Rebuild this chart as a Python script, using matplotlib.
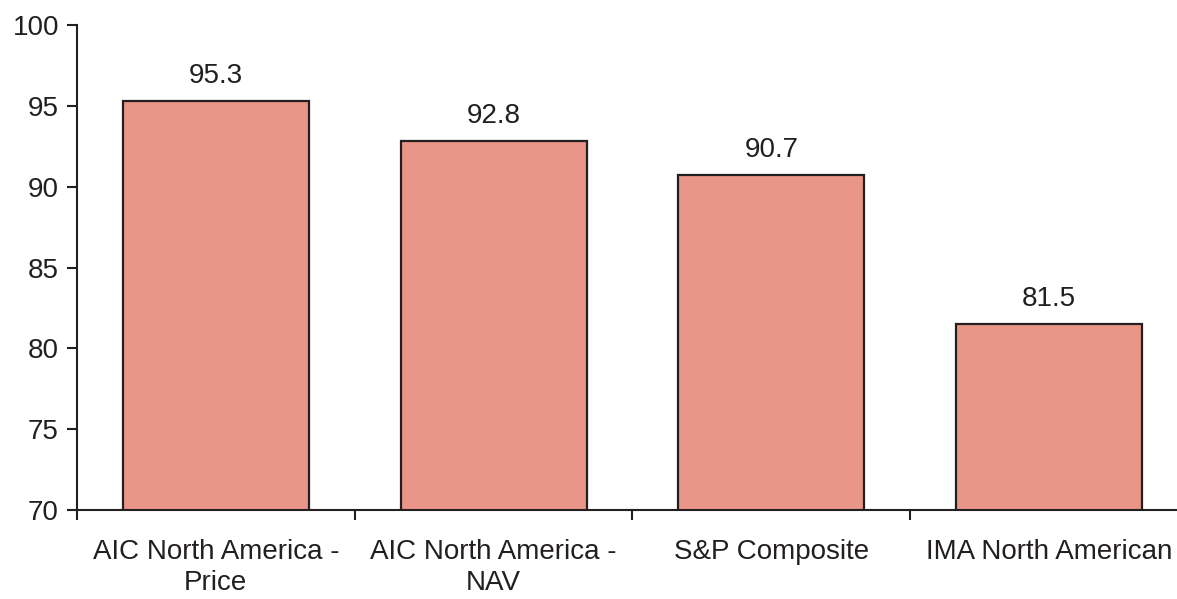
import numpy as np
import matplotlib.pyplot as plt

plt.rcParams['font.family'] = ['Liberation Sans', 'DejaVu Sans']

# category names and values
categories = ['AIC North America -\nPrice', 'AIC North America -\nNAV',
              'S&P Composite', 'IMA North American']
values = [95.3, 92.8, 90.7, 81.5]
yticks = [70, 75, 80, 85, 90, 95, 100]

fig = plt.figure(figsize=(11.77, 5.99), dpi=100)
ax = fig.add_axes([77 / 1177, 1 - 510 / 599, 1111 / 1177, 485 / 599])

x = np.arange(len(categories))
bars = ax.bar(x, values, width=0.67, bottom=0, color='#E99588',
              edgecolor='#231f20', linewidth=1.6, zorder=2)

for xi, v in zip(x, values):
    ax.text(xi, v + 0.75, f'{v:.1f}', ha='center', va='bottom',
            fontsize=20, color='#231f20')

ax.set_ylim(70, 100)
ax.set_xlim(-0.5, len(categories) - 0.5)
ax.set_yticks(yticks)
ax.tick_params(axis='y', direction='out', length=7, width=1.5,
               labelsize=20, colors='#231f20', pad=6)

# category labels sit between the boundary ticks
ax.set_xticks(np.arange(len(categories) + 1) - 0.5)
ax.set_xticklabels([])
ax.set_xticks(x, minor=True)
ax.set_xticklabels(categories, minor=True, fontsize=20, color='#231f20',
                   linespacing=1.25)
ax.tick_params(axis='x', which='major', direction='out', length=7,
               width=1.5, color='#231f20')
ax.tick_params(axis='x', which='minor', length=0, pad=21)

for side in ['top', 'right']:
    ax.spines[side].set_visible(False)
for side in ['left', 'bottom']:
    ax.spines[side].set_linewidth(1.5)
    ax.spines[side].set_color('#231f20')

fig.savefig('out.png', dpi=100)
